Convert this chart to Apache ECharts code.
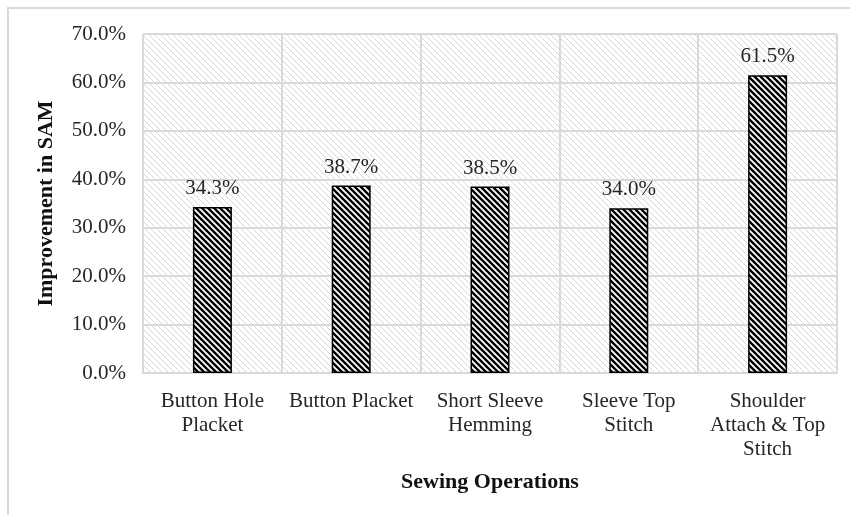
<!DOCTYPE html>
<html>
<head>
<meta charset="utf-8">
<script src="https://cdn.jsdelivr.net/npm/echarts@6/dist/echarts.min.js"></script>
<style>html,body{margin:0;padding:0;background:#fff;}#c{width:850px;height:515px;}</style>
</head>
<body>
<div id="c"></div>
<script>
const categories = ['Button Hole\nPlacket', 'Button Placket', 'Short Sleeve\nHemming', 'Sleeve Top\nStitch', 'Shoulder\nAttach & Top\nStitch'];
const improvement = [34.3, 38.7, 38.5, 34.0, 61.5];
const yTicks = { min: 0, max: 70, interval: 10 };

function hatch(size, bg, fg, lw) {
  const c = document.createElement('canvas');
  c.width = c.height = size;
  const g = c.getContext('2d');
  g.fillStyle = bg; g.fillRect(0, 0, size, size);
  g.strokeStyle = fg; g.lineWidth = lw; g.beginPath();
  for (let k = -1; k <= 1; k++) { g.moveTo(k * size - 1, -1); g.lineTo(k * size + size + 1, size + 1); }
  g.stroke();
  return { image: c, repeat: 'repeat' };
}
const font = 'Liberation Serif, Times New Roman, serif';
const chart = echarts.init(document.getElementById('c'), null, { renderer: 'canvas' });
chart.setOption({
  animation: false,
  backgroundColor: '#fff',
  graphic: [{ type: 'rect', shape: { x: 8, y: 8, width: 900, height: 600 }, style: { fill: 'none', stroke: '#d9d9d9', lineWidth: 2 } }],
  grid: { left: 143, right: 13, top: 34, bottom: 142, show: true, borderWidth: 0, backgroundColor: hatch(6, '#ffffff', '#d6d6d6', 1) },
  xAxis: {
    type: 'category', data: categories,
    name: 'Sewing Operations', nameLocation: 'middle', nameGap: 98,
    nameTextStyle: { fontFamily: font, fontSize: 22, fontWeight: 'bold', color: '#111' },
    axisLine: { show: true, lineStyle: { color: '#d9d9d9', width: 2 } },
    axisTick: { show: false },
    axisLabel: { fontFamily: font, fontSize: 21, color: '#262626', margin: 16, lineHeight: 24, interval: 0 },
    splitLine: { show: true, lineStyle: { color: '#d9d9d9', width: 2 } }
  },
  yAxis: {
    type: 'value', min: yTicks.min, max: yTicks.max, interval: yTicks.interval,
    name: 'Improvement in SAM', nameLocation: 'middle', nameGap: 86,
    nameTextStyle: { fontFamily: font, fontSize: 22, fontWeight: 'bold', color: '#111' },
    axisLine: { show: false }, axisTick: { show: false },
    axisLabel: { fontFamily: font, fontSize: 21, color: '#262626', margin: 17, formatter: v => v.toFixed(1) + '%' },
    splitLine: { show: true, lineStyle: { color: '#d9d9d9', width: 2 } }
  },
  series: [{
    type: 'bar', data: improvement, barWidth: 39,
    itemStyle: { color: hatch(6, '#ffffff', '#000000', 2.4), borderColor: '#000', borderWidth: 1.5 },
    label: { show: true, position: 'top', distance: 8, fontFamily: font, fontSize: 21, color: '#262626', formatter: p => p.value.toFixed(1) + '%' }
  }]
});
</script>
</body>
</html>
